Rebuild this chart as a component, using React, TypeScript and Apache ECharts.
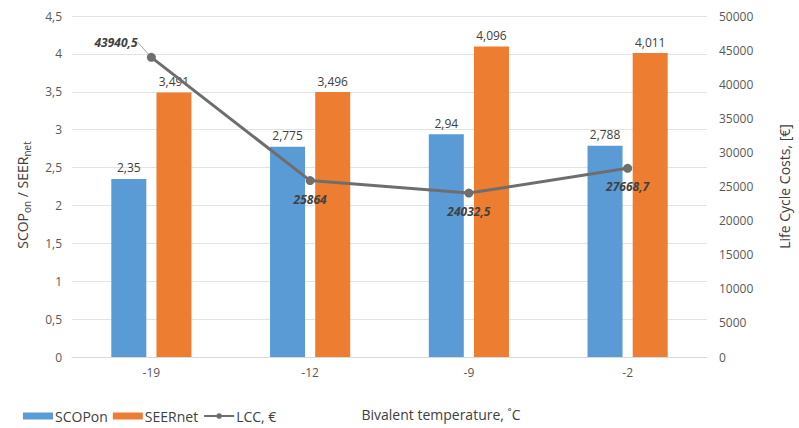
import React, { useEffect, useRef } from "react";
import * as echarts from "echarts";

const categories = ["-19", "-12", "-9", "-2"];
const scopOn = [2.35, 2.775, 2.94, 2.788];
const seerNet = [3.491, 3.496, 4.096, 4.011];
const lcc = [43940.5, 25864, 24032.5, 27668.7];
const leftTicks = { min: 0, max: 4.5, interval: 0.5 };
const rightTicks = { min: 0, max: 50000, interval: 5000 };

const FONT = "'Open Sans', sans-serif";
const comma = (v: number) => String(v).replace(".", ",");

export default function App() {
  const ref = useRef<HTMLDivElement>(null);
  useEffect(() => {
    if (!ref.current) return;
    const chart = echarts.init(ref.current, undefined, { renderer: "svg" });
    const lccData = lcc.map((v, i) =>
      i === 0 ? { value: v, labelLine: { show: true } } : { value: v }
    );
    chart.setOption({
      animation: false,
      backgroundColor: "#ffffff",
      textStyle: { fontFamily: FONT },
      grid: { left: 72, right: 83, top: 16, bottom: 71 },
      legend: {
        left: 18,
        top: 404,
        itemWidth: 30,
        itemHeight: 7,
        itemGap: 5,
        textStyle: { fontFamily: FONT, fontSize: 14, color: "#404040", padding: [0, 0, 0, -3] },
        data: [
          { name: "SCOPon", icon: "rect" },
          { name: "SEERnet", icon: "rect" },
          { name: "LCC, €" },
        ],
      },
      xAxis: {
        type: "category",
        data: categories,
        axisTick: { show: false },
        axisLine: { lineStyle: { color: "#d9d9d9" } },
        axisLabel: { color: "#595959", fontSize: 12, margin: 9, fontFamily: FONT },
      },
      yAxis: [
        {
          type: "value",
          ...leftTicks,
          axisLabel: {
            color: "#595959",
            fontSize: 12,
            margin: 10,
            fontFamily: FONT,
            formatter: (v: number) => comma(v),
          },
          splitLine: { lineStyle: { color: "#e3e3e3" } },
          axisLine: { show: false },
          axisTick: { show: false },
        },
        {
          type: "value",
          ...rightTicks,
          position: "right",
          name: "Life Cycle Costs, [€]",
          nameLocation: "middle",
          nameRotate: 90,
          nameGap: 70,
          nameTextStyle: { fontSize: 14, color: "#404040", fontFamily: FONT },
          axisLabel: {
            color: "#595959",
            fontSize: 12,
            margin: 12,
            fontFamily: FONT,
            formatter: (v: number) => String(v),
          },
          splitLine: { show: false },
          axisLine: { show: false },
          axisTick: { show: false },
        },
      ],
      graphic: [
        {
          type: "text",
          x: 441,
          y: 414,
          style: {
            text: "Bivalent temperature, ˚C",
            fontFamily: FONT,
            fontSize: 14,
            fill: "#404040",
            align: "center",
            verticalAlign: "middle",
          },
        },
        {
          type: "text",
          x: 22,
          y: 195,
          rotation: Math.PI / 2,
          style: {
            text: "{m|SCOP}{s|on}{m| / SEER}{s|net}",
            align: "center",
            verticalAlign: "middle",
            fill: "#404040",
            rich: {
              m: { fontFamily: FONT, fontSize: 14, fill: "#404040", lineHeight: 20, verticalAlign: "middle" },
              s: { fontFamily: FONT, fontSize: 10, fill: "#404040", lineHeight: 20, verticalAlign: "bottom", padding: [8, 0, 0, 0] },
            },
          },
        },
      ],
      series: [
        {
          name: "SCOPon",
          type: "bar",
          data: scopOn,
          barWidth: 35,
          barGap: "29%",
          itemStyle: { color: "#5b9bd5" },
          label: {
            show: true,
            position: "top",
            distance: 5,
            fontSize: 12,
            color: "#404040",
            fontFamily: FONT,
            formatter: (p: any) => comma(p.value),
          },
        },
        {
          name: "SEERnet",
          type: "bar",
          data: seerNet,
          barWidth: 35,
          itemStyle: { color: "#ed7d31" },
          label: {
            show: true,
            position: "top",
            distance: 5,
            fontSize: 12,
            color: "#404040",
            fontFamily: FONT,
            formatter: (p: any) => comma(p.value),
          },
        },
        {
          name: "LCC, €",
          type: "line",
          yAxisIndex: 1,
          data: lccData,
          symbol: "circle",
          symbolSize: 9,
          lineStyle: { color: "#6e6e6e", width: 3 },
          itemStyle: { color: "#6e6e6e" },
          label: {
            show: true,
            position: "bottom",
            distance: 8,
            fontSize: 12,
            fontStyle: "italic",
            fontWeight: "bold",
            color: "#404040",
            fontFamily: FONT,
            formatter: (p: any) => comma(p.value),
          },
          labelLayout: (p: any) =>
            p.dataIndex === 0 ? { x: 116, y: 42, align: "center", verticalAlign: "middle" } : {},
          labelLine: { show: false, lineStyle: { color: "#a6a6a6", width: 1 } },
        },
      ],
    });
    return () => chart.dispose();
  }, []);
  return <div ref={ref} style={{ width: 799, height: 428, position: "absolute", left: 0, top: 0 }} />;
}
